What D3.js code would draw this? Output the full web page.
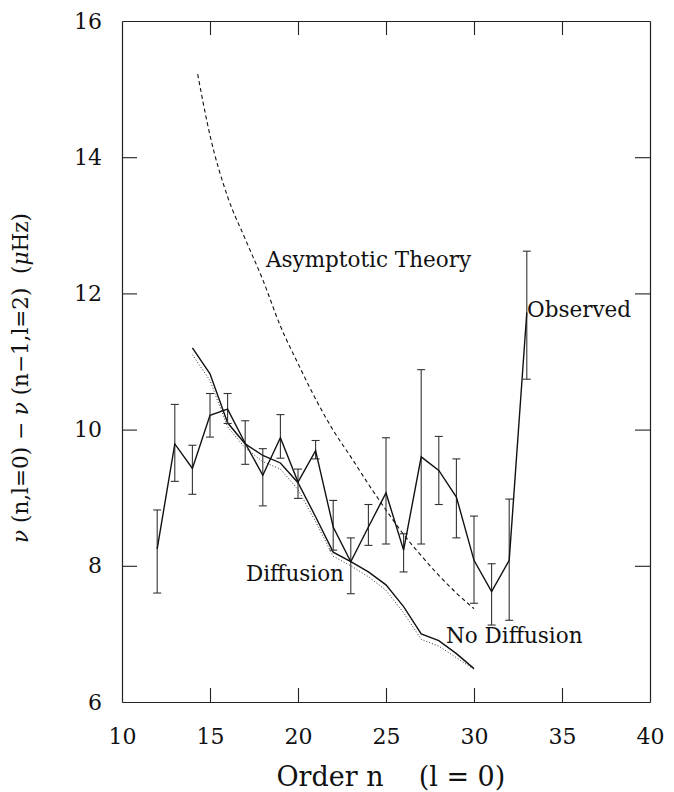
<!DOCTYPE html>
<html>
<head>
<meta charset="utf-8">
<script src="https://cdn.jsdelivr.net/npm/d3@7"></script>
<style>
  body { margin: 0; background: #fff; }
  text { font-family: "DejaVu Serif", serif; fill: #111; }
</style>
</head>
<body>
<div id="chart"></div>
<script>
// radial order n of the observed l=0 modes
var orders = [12, 13, 14, 15, 16, 17, 18, 19, 20, 21, 22, 23, 24, 25, 26, 27, 28, 29, 30, 31, 32, 33];
var observed = [8.25, 9.79, 9.43, 10.21, 10.30, 9.80, 9.33, 9.88, 9.23, 9.69, 8.57, 8.06, 8.57, 9.07, 8.23, 9.60, 9.40, 9.01, 8.08, 7.62, 8.08, 11.72];
var errLow = [7.60, 9.24, 9.05, 9.89, 10.09, 9.49, 8.88, 9.58, 8.99, 9.57, 8.23, 7.59, 8.30, 8.32, 7.91, 8.32, 8.90, 8.41, 7.45, 7.13, 7.20, 10.74];
var errHigh = [8.82, 10.37, 9.77, 10.53, 10.53, 10.13, 9.72, 10.22, 9.42, 9.84, 8.96, 8.41, 8.90, 9.88, 8.47, 10.88, 9.90, 9.57, 8.73, 8.03, 8.98, 12.62];

// models
var modelOrders = [14, 15, 16, 17, 18, 19, 20, 21, 22, 23, 24, 25, 26, 27, 28, 29, 30];
var diffusion = [11.20, 10.82, 10.10, 9.79, 9.62, 9.51, 9.22, 8.72, 8.20, 8.06, 7.91, 7.72, 7.40, 7.00, 6.90, 6.71, 6.49];
var noDiffusion = [11.10, 10.72, 10.04, 9.73, 9.53, 9.42, 9.12, 8.65, 8.14, 8.00, 7.84, 7.64, 7.31, 6.92, 6.82, 6.65, 6.48];

var asymOrders = [14.3, 15, 16, 17, 18, 19, 20, 21, 22, 23, 24, 25, 26, 27, 28, 29, 30];
var asymptotic = [15.22, 14.32, 13.42, 12.80, 12.20, 11.52, 10.97, 10.45, 9.99, 9.60, 9.20, 8.82, 8.46, 8.15, 7.86, 7.60, 7.37];

var xTicks = [10, 15, 20, 25, 30, 35, 40];
var yTicks = [6, 8, 10, 12, 14, 16];

(function () {
  var W = 674, H = 792;
  var mLeft = 122, mRight = 650, mTop = 21, mBottom = 702;

  var svg = d3.select("#chart").append("svg")
      .attr("width", W)
      .attr("height", H);

  var x = d3.scaleLinear().domain([10, 40]).range([mLeft, mRight]);
  var y = d3.scaleLinear().domain([6, 16]).range([mBottom, mTop]);

  // frame with inward ticks on all four sides
  function frameAxis(axis, transform) {
    var g = svg.append("g")
        .attr("transform", transform)
        .call(axis);
    g.select(".domain").attr("stroke", "#222").attr("stroke-width", 1.2);
    g.selectAll(".tick line").attr("stroke", "#222").attr("stroke-width", 1.1);
    return g;
  }

  var gx = frameAxis(d3.axisBottom(x).tickValues(xTicks).tickSizeInner(-14).tickSizeOuter(0).tickPadding(26),
      "translate(0," + mBottom + ")");
  gx.selectAll(".tick text").attr("font-size", 22).attr("font-family", "DejaVu Serif");
  gx.selectAll(".tick line").filter(function (d) { return d === 10 || d === 40; }).remove();

  var gy = frameAxis(d3.axisLeft(y).tickValues(yTicks).tickSizeInner(-15).tickSizeOuter(0).tickPadding(20),
      "translate(" + mLeft + ",0)");
  gy.selectAll(".tick text").attr("font-size", 22).attr("font-family", "DejaVu Serif");
  gy.selectAll(".tick line").filter(function (d) { return d === 6 || d === 16; }).remove();

  frameAxis(d3.axisTop(x).tickValues(xTicks.slice(1, -1)).tickSizeInner(-14).tickSizeOuter(0).tickFormat(""),
      "translate(0," + mTop + ")");
  frameAxis(d3.axisRight(y).tickValues(yTicks.slice(1, -1)).tickSizeInner(-15).tickSizeOuter(0).tickFormat(""),
      "translate(" + mRight + ",0)");

  // axis titles
  svg.append("text")
      .attr("x", 330).attr("y", 786)
      .attr("text-anchor", "middle")
      .attr("font-size", 27)
      .text("Order n");
  svg.append("text")
      .attr("x", 462).attr("y", 786)
      .attr("text-anchor", "middle")
      .attr("font-size", 27)
      .text("(l = 0)");

  var ylab = svg.append("text")
      .attr("transform", "translate(28,378) rotate(-90)")
      .attr("text-anchor", "middle")
      .attr("font-size", 21.5);
  ylab.append("tspan").attr("font-style", "italic").text("ν");
  ylab.append("tspan").text(" (n,l=0) − ");
  ylab.append("tspan").attr("font-style", "italic").text("ν");
  ylab.append("tspan").text(" (n−1,l=2)\u00a0\u00a0(");
  ylab.append("tspan").attr("font-style", "italic").text("μ");
  ylab.append("tspan").text("Hz)");

  var line = d3.line()
      .x(function (d) { return x(d[0]); })
      .y(function (d) { return y(d[1]); });

  // asymptotic theory (dashed)
  svg.append("path")
      .datum(d3.zip(asymOrders, asymptotic))
      .attr("d", line.curve(d3.curveMonotoneX))
      .attr("fill", "none")
      .attr("stroke", "#111")
      .attr("stroke-width", 1.1)
      .attr("stroke-dasharray", "4,3");
  line.curve(d3.curveLinear);

  // no diffusion model (dotted)
  svg.append("path")
      .datum(d3.zip(modelOrders, noDiffusion))
      .attr("d", line)
      .attr("fill", "none")
      .attr("stroke", "#333")
      .attr("stroke-width", 1)
      .attr("stroke-dasharray", "1,2");

  // diffusion model (solid)
  svg.append("path")
      .datum(d3.zip(modelOrders, diffusion))
      .attr("d", line)
      .attr("fill", "none")
      .attr("stroke", "#111")
      .attr("stroke-width", 1.4);

  // observed values with error bars
  var bars = svg.append("g")
      .attr("stroke", "#333")
      .attr("stroke-width", 1.1);
  orders.forEach(function (n, i) {
    bars.append("line")
        .attr("x1", x(n)).attr("x2", x(n))
        .attr("y1", y(errLow[i])).attr("y2", y(errHigh[i]));
    [errLow[i], errHigh[i]].forEach(function (v) {
      bars.append("line")
          .attr("x1", x(n) - 4).attr("x2", x(n) + 4)
          .attr("y1", y(v)).attr("y2", y(v));
    });
  });

  svg.append("path")
      .datum(d3.zip(orders, observed))
      .attr("d", line)
      .attr("fill", "none")
      .attr("stroke", "#111")
      .attr("stroke-width", 1.4);

  // annotations
  var notes = [
    {t: "Asymptotic Theory", x: 266, y: 267},
    {t: "Observed", x: 527, y: 317},
    {t: "Diffusion", x: 246, y: 581},
    {t: "No Diffusion", x: 446, y: 643}
  ];
  svg.selectAll(".note")
      .data(notes)
      .enter().append("text")
      .attr("class", "note")
      .attr("x", function (d) { return d.x; })
      .attr("y", function (d) { return d.y; })
      .attr("font-size", 21.5)
      .text(function (d) { return d.t; });
})();
</script>
</body>
</html>
